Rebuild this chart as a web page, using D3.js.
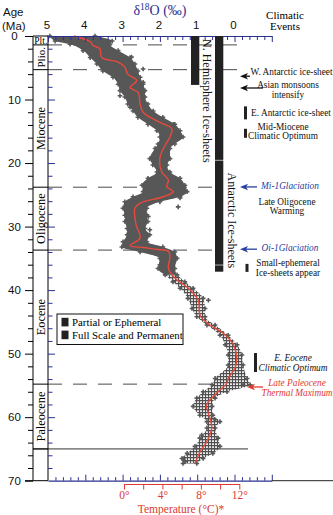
<!DOCTYPE html>
<html><head><meta charset="utf-8">
<script src="https://cdn.jsdelivr.net/npm/d3@7/dist/d3.min.js"></script>
<style>body{margin:0;background:#fff}svg{display:block}</style>
</head><body>
<script>
// ---- data ----
const curveAge  = [0,0.9,1.5,2.0,3.4,4.1,4.9,6.0,7.0,8.1,8.9,10.7,12.0,13.6,14.6,15.9,17.2,19.2,21.4,22.7,23.7,24.5,25.3,26.3,27.1,29.7,31.8,33.0,33.3,33.6,33.9,34.7,36.6,38.1,39.7,41.6,44.0,45.5,46.8,48.6,50.7,52.3,53.9,54.7,56.2,58.1,59.4,61.7,63.9,65.4,67.3];
const curveD18O = [4.3,3.87,3.79,3.61,3.56,3.12,2.94,2.86,2.62,2.80,2.58,2.53,2.45,2.00,1.68,1.73,1.86,2.00,1.95,1.77,1.82,1.64,1.91,2.53,2.67,2.64,2.53,2.80,2.45,2.05,1.77,1.73,1.77,1.60,1.24,0.97,0.92,0.66,0.30,0.03,-0.06,-0.01,0.17,0.21,0.48,0.75,0.70,0.61,0.75,0.92,1.06];

const envAge = [0,0.8,1.3,2.3,3.4,4.4,5.5,6.5,7.6,8.6,9.6,10.7,11.8,12.8,13.9,14.9,15.9,17.0,17.7,19.3,20.3,21.4,22.4,23.5,24.5,25.3,26.1,27.1,28.2,29.2,30.3,31.3,32.4,33.2,34.0,35.0,36.6,37.6,38.7,39.7,41.3,42.9,44.2,45.5,47.1,48.6,50.2,51.8,53.9,54.9,56.0,57.0,58.3,59.7,60.7,61.7,63.3,64.6,65.7,66.5,67.3];
const envMax = [4.95,4.81,4.41,4.06,3.87,3.69,3.53,3.26,3.12,3.07,2.94,2.86,2.72,2.59,2.32,2.08,2.00,2.05,2.13,2.27,2.19,2.08,2.32,2.48,2.45,2.72,2.94,2.99,2.94,2.94,2.88,2.88,2.99,3.02,2.53,2.00,2.05,1.86,1.65,1.46,1.25,1.14,1.01,0.74,0.39,0.25,0.17,0.17,0.52,0.60,0.84,1.01,1.11,0.93,0.74,0.74,0.93,1.06,1.27,1.41,1.38];
const envMin = [3.74,3.28,3.34,3.12,2.80,2.67,2.59,2.53,2.45,2.40,2.40,2.32,2.18,1.92,1.60,1.46,1.38,1.60,1.73,1.73,1.81,1.73,1.46,1.33,1.27,1.46,2.00,2.35,2.35,2.32,2.40,2.27,2.35,1.92,1.60,1.54,1.60,1.54,1.33,1.11,0.84,0.79,0.79,0.52,0.17,-0.07,-0.20,-0.23,-0.34,-0.42,0.20,0.52,0.60,0.58,0.39,0.52,0.44,0.39,0.58,0.84,1.01];

const outAge  = [3.3,5.2,7.3,9.4,11.2,13.9,14.9,25.5,26.9,28.4,30.5,36.0,41.6,54.9,60.4,62.8,66.5,67.0];
const outD18O = [2.76,2.45,2.45,3.07,2.80,1.64,1.51,1.46,1.51,2.31,2.27,2.00,0.70,-0.23,0.52,0.88,1.37,1.33];

const epochNames  = ["Plt.","Plio.","Miocene","Oligocene","Eocene","Paleocene"];
const epochTop    = [0,1.4,5.3,23.8,33.7,54.8];
const epochBottom = [1.4,5.3,23.8,33.7,54.8,65];
const dashedAges  = [1.4,5.3,23.8,33.7,54.8];

const d18OLabels = [5,4,3,2,1,0];
const ageLabels  = [0,10,20,30,40,50,60,70];
const tempLabels = [0,4,8,12];

const iceNames = ["N. Hemisphere Ice-sheets","Antarctic Ice-sheets"];
const iceSegStart = [[0],[0,19.6,36.1]];
const iceSegEnd   = [[7.7],[19.5,36.0,37.1]];

const legendLabels = ["Partial or Ephemeral","Full Scale and Permanent"];

const eventLines = [["W. Antarctic ice-sheet"],["Asian monsoons","intensify"],["E. Antarctic ice-sheet"],["Mid-Miocene","Climatic Optimum"],["Mi-1Glaciation"],["Late Oligocene","Warming"],["Oi-1Glaciation"],["Small-ephemeral","Ice-sheets appear"],["E. Eocene","Climatic Optimum"],["Late Paleocene","Thermal Maximum"]];
const eventAge = [5.7,8.5,12.1,15.0,23.6,26.8,33.4,36.5,51.4,55.4];

// ---- scales ----
const W=333,H=515;
const NAVY="#2b3190", RED="#dc3b30", BLUE="#2840a0", DARK="#222";
const x=d3.scaleLinear().domain([5,-1]).range([48,271.8]);
const y=d3.scaleLinear().domain([0,70]).range([36,480.7]);
const tX=d3.scaleLinear().domain([0,12]).range([x(2.963),x(-0.129)]);

const svg=d3.select("body").append("svg").attr("width",W).attr("height",H);
const serif="'Liberation Serif','Times New Roman',serif";
const sans="'Liberation Sans',Arial,sans-serif";

const defs=svg.append("defs");
const pat=defs.append("pattern").attr("id","crossPat").attr("patternUnits","userSpaceOnUse").attr("width",3).attr("height",3);
pat.append("path").attr("d","M0,1.5H3M1.5,0V3").attr("stroke","#505050").attr("stroke-width",1.25);

// ---- dashed boundary lines (behind data) ----
const dashEnd=[248,238,213,213,213];
svg.append("g").selectAll("line").data(dashedAges).join("line")
  .attr("x1",48).attr("x2",(d,i)=>dashEnd[i]).attr("y1",d=>y(d)).attr("y2",d=>y(d))
  .attr("stroke","#4a4a4a").attr("stroke-width",1).attr("stroke-dasharray","14,11");
svg.append("line").attr("x1",33).attr("x2",248).attr("y1",y(65)).attr("y2",y(65))
  .attr("stroke","#333").attr("stroke-width",1);

// ---- scatter envelope ----
const env=envAge.map((a,i)=>({a,hi:envMax[i],lo:envMin[i]}));
const area=d3.area().y(d=>y(d.a)).x0(d=>x(d.hi)).x1(d=>x(d.lo)).curve(d3.curveMonotoneY);
svg.append("path").datum(env.filter(d=>d.a<=37.6)).attr("d",area).attr("fill","#575757");
svg.append("path").datum(env.filter(d=>d.a>=37.6)).attr("d",area).attr("fill","url(#crossPat)");
const crossPts=[];
env.forEach(d=>{crossPts.push([d.a,d.hi]);crossPts.push([d.a,d.lo]);});
outAge.forEach((a,i)=>crossPts.push([a,outD18O[i]]));
svg.append("g").selectAll("path").data(crossPts).join("path")
  .attr("transform",d=>`translate(${x(d[1])},${y(d[0])})`)
  .attr("d",d3.symbol().type(d3.symbolCross).size(12)).attr("fill","#575757");

// ---- smoothed curve ----
svg.append("path").datum(curveAge.map((a,i)=>[a,curveD18O[i]]))
  .attr("d",d3.line().x(d=>x(d[1])).y(d=>y(d[0])).curve(d3.curveCatmullRom.alpha(0.5)))
  .attr("fill","none").attr("stroke","#e8493c").attr("stroke-width",1.4);

// ---- epoch column ----
const ep=svg.append("g");
ep.append("line").attr("x1",33).attr("x2",33).attr("y1",y(0)).attr("y2",y(70)).attr("stroke","#000");
ep.append("line").attr("x1",48).attr("x2",48).attr("y1",y(0)).attr("y2",y(70)).attr("stroke","#000");
ep.selectAll("line.b").data([0].concat(epochBottom)).join("line").attr("class","b")
  .attr("x1",33).attr("x2",48).attr("y1",d=>y(d)).attr("y2",d=>y(d)).attr("stroke","#000");
epochNames.forEach((n,i)=>{
  const cy=(y(epochTop[i])+y(epochBottom[i]))/2;
  if(i===0){
    ep.append("text").attr("x",40.8).attr("y",cy+3.2).attr("text-anchor","middle")
      .attr("font-family",serif).attr("font-size",9.5).text(n);
  } else {
    ep.append("text").attr("transform",`translate(44.6,${cy}) rotate(-90)`).attr("text-anchor","middle")
      .attr("font-family",serif).attr("font-size",i===1?11:12.3).text(n);
  }
});

// ---- left age axis ----
const gL=svg.append("g").attr("transform","translate(33,0)");
gL.call(d3.axisLeft(y).tickValues(d3.range(0,71,2).filter(v=>v%10)).tickSize(5).tickFormat("").tickSizeOuter(0));
gL.call(g=>g.select(".domain").remove());
const gL2=svg.append("g").attr("transform","translate(33,0)");
gL2.call(d3.axisLeft(y).tickValues(ageLabels).tickSize(8).tickSizeOuter(0).tickFormat(d3.format("d")));
gL2.select(".domain").remove();
gL2.selectAll("text").attr("x",-18.5).attr("text-anchor","middle").attr("font-family",sans).attr("font-size",11.5).attr("fill","#111");
svg.selectAll("g.tick line").attr("stroke","#000");
svg.append("line").attr("x1",25).attr("x2",48).attr("y1",y(70)).attr("y2",y(70)).attr("stroke","#000");

// inner navy ticks
const gR=svg.append("g").attr("transform","translate(48,0)");
gR.call(d3.axisRight(y).tickValues(d3.range(2,70,2).filter(v=>v%10)).tickSize(4.5).tickFormat("").tickSizeOuter(0));
gR.select(".domain").remove();
gR.selectAll("line").attr("stroke",NAVY);
const gR2=svg.append("g").attr("transform","translate(48,0)");
gR2.call(d3.axisRight(y).tickValues([10,20,30,40,50,60]).tickSize(7).tickFormat("").tickSizeOuter(0));
gR2.select(".domain").remove();
gR2.selectAll("line").attr("stroke",NAVY);

// ---- top d18O axis ----
const minorVals=d3.range(0,31).map(i=>5-i*0.2).filter(v=>Math.abs(v-Math.round(v))>1e-6);
const gT=svg.append("g").attr("transform",`translate(0,${y(0)})`);
gT.call(d3.axisTop(x).tickValues(minorVals).tickSize(-4).tickFormat("").tickSizeOuter(0));
gT.select(".domain").attr("stroke",NAVY).attr("stroke-width",1.2);
gT.selectAll("line").attr("stroke",NAVY);
const gT2=svg.append("g").attr("transform",`translate(0,${y(0)})`);
gT2.call(d3.axisTop(x).tickValues([5,4,3,2,1,0,-1]).tickSize(-6).tickPadding(7).tickSizeOuter(0)
  .tickFormat(d=>d18OLabels.includes(d)?d3.format("d")(d):""));
gT2.select(".domain").remove();
gT2.selectAll("line").attr("stroke",NAVY);
gT2.selectAll("text").attr("dx",-1.5).attr("font-family",sans).attr("font-size",11.5).attr("fill","#111");

// ---- bottom navy axis ----
const gB=svg.append("g").attr("transform",`translate(0,${y(70)})`);
gB.call(d3.axisBottom(x).tickValues(minorVals).tickSize(-3.5).tickFormat("").tickSizeOuter(0));
gB.select(".domain").attr("stroke",NAVY).attr("stroke-width",1.2);
gB.selectAll("line").attr("stroke",NAVY);
const gB2=svg.append("g").attr("transform",`translate(0,${y(70)})`);
gB2.call(d3.axisBottom(x).tickValues([4,3,2,1,0,-1]).tickSize(-6).tickFormat("").tickSizeOuter(0));
gB2.select(".domain").remove();
gB2.selectAll("line").attr("stroke",NAVY);
svg.append("line").attr("x1",x(-1)).attr("x2",W).attr("y1",y(70)).attr("y2",y(70)).attr("stroke","#222");

// ---- temperature axis ----
const gTmp=svg.append("g").attr("transform","translate(0,484)");
gTmp.call(d3.axisBottom(tX).tickValues(d3.range(0,13,2)).tickSize(5.5).tickPadding(1.5).tickSizeOuter(0)
  .tickFormat(d=>tempLabels.includes(d)?d+"°":""));
gTmp.select(".domain").attr("stroke",RED);
gTmp.selectAll("line").attr("stroke",RED);
gTmp.selectAll("text").attr("font-family",serif).attr("font-size",11.5).attr("fill",RED);
svg.append("text").attr("x",181).attr("y",512.5).attr("text-anchor","middle")
  .attr("font-family",serif).attr("font-size",11.5).attr("fill",RED).text("Temperature (°C)*");

// ---- titles ----
svg.append("text").attr("x",3).attr("y",16).attr("font-family",sans).attr("font-size",11.5).attr("fill","#111").text("Age");
svg.append("text").attr("x",2).attr("y",29.5).attr("font-family",sans).attr("font-size",11.5).attr("fill","#111").text("(Ma)");
const ttl=svg.append("text").attr("x",160).attr("y",15).attr("text-anchor","middle")
  .attr("font-family",serif).attr("font-size",14).attr("fill",NAVY);
ttl.append("tspan").text("δ");
ttl.append("tspan").attr("dy",-5).attr("font-size",9.5).text("18");
ttl.append("tspan").attr("dy",5).text("O (‰)");
svg.append("text").attr("x",285).attr("y",19).attr("text-anchor","middle").attr("font-family",serif).attr("font-size",11).text("Climatic");
svg.append("text").attr("x",285).attr("y",30).attr("text-anchor","middle").attr("font-family",serif).attr("font-size",11).text("Events");

// ---- ice-sheet bars ----
const barX=[191,215];
iceNames.forEach((n,i)=>{
  iceSegStart[i].forEach((s,j)=>{
    svg.append("rect").attr("x",barX[i]).attr("width",8.3).attr("y",y(s)).attr("height",y(iceSegEnd[i][j])-y(s)).attr("fill",DARK);
  });
});
svg.append("text").attr("transform",`translate(202.5,${y(0)+3}) rotate(90)`)
  .attr("font-family",serif).attr("font-size",12).attr("fill","#111").text(iceNames[0]);
svg.append("text").attr("transform",`translate(227.5,${y(21.5)}) rotate(90)`)
  .attr("font-family",serif).attr("font-size",12).attr("fill","#111").text(iceNames[1]);

// ---- legend ----
const lg=svg.append("g");
lg.append("rect").attr("x",57).attr("y",314).attr("width",126).attr("height",30.5).attr("fill","#fff").attr("stroke","#111");
legendLabels.forEach((l,i)=>{
  lg.append("rect").attr("x",61.5).attr("y",317.8+i*12.8).attr("width",7).attr("height",8.6).attr("fill",DARK);
  lg.append("text").attr("x",72).attr("y",325.5+i*13.2).attr("font-family",serif).attr("font-size",10.8).text(l);
});

// ---- climatic events ----
const evX=[291.5,288,291,283,290,287,290,288,293,297];
const evCol=["#111","#111","#111","#111",BLUE,"#111",BLUE,"#111","#111",RED];
const evItal=[false,false,false,false,true,false,true,false,true,true];
eventLines.forEach((lines,i)=>{
  const n=lines.length, cy=y(eventAge[i]);
  lines.forEach((t,k)=>{
    svg.append("text").attr("x",evX[i]).attr("y",cy+(k-(n-1)/2)*9.6+3.2).attr("text-anchor","middle")
      .attr("font-family",serif).attr("font-size",9.3).attr("font-style",evItal[i]?"italic":"normal")
      .attr("fill",evCol[i]).text(t);
  });
});
// arrows
const arrowEv=[0,1,4,6,9], arrowTip=[240,240,240,240,247], arrowTail=[250,263,257,257,263], arrowDy=[4,-2,1,1,-1];
arrowEv.forEach((e,k)=>{
  const yy=y(eventAge[e])+arrowDy[k], c=evCol[e];
  svg.append("line").attr("x1",arrowTip[k]+5).attr("x2",arrowTail[k]).attr("y1",yy).attr("y2",yy).attr("stroke",c).attr("stroke-width",1.3);
  svg.append("path").attr("d",`M${arrowTip[k]},${yy}L${arrowTip[k]+8},${yy-3.2}L${arrowTip[k]+6},${yy}L${arrowTip[k]+8},${yy+3.2}Z`).attr("fill",c);
});
// small event bars
const barEv=[2,3,7,8], barEx=[244,244,245.5,254], barH=[13,9,8,19];
barEv.forEach((e,k)=>{
  const cy=y(eventAge[e]);
  svg.append("rect").attr("x",barEx[k]).attr("width",3).attr("y",cy-barH[k]/2+(e===3?2:0)).attr("height",barH[k]).attr("fill",DARK);
});
</script>
</body></html>
